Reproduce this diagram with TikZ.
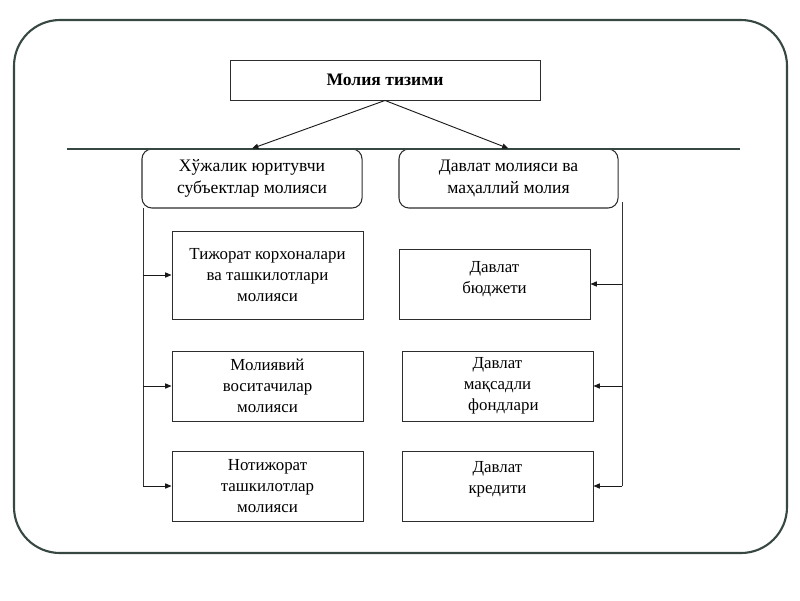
\documentclass[tikz,border=0pt]{standalone}
\usepackage{fontspec}
\setmainfont{Liberation Serif}
\usepackage{xcolor}
\usetikzlibrary{arrows.meta, positioning, calc}
\definecolor{framegray}{RGB}{55, 72, 66}
\definecolor{boxgray}{RGB}{45, 45, 45}

\begin{document}
\begin{tikzpicture}[
  x=0.025cm, y=-0.025cm,
  box/.style={rectangle, draw=boxgray, line width=0.65pt, fill=white,
              minimum width=4.775cm, minimum height=1.75cm, align=center,
              font=\fontsize{12}{15}\selectfont, inner sep=1pt},
  group/.style={rectangle, rounded corners=0.25cm, draw=boxgray, line width=0.75pt, fill=white,
                minimum width=5.5cm, minimum height=1.475cm, align=center,
                font=\fontsize{12.5}{15.5}\selectfont},
  head/.style={rectangle, draw=boxgray, line width=0.65pt, fill=white,
               minimum width=7.75cm, minimum height=1cm, align=center,
               font=\fontsize{12.5}{14}\selectfont\bfseries},
  arrow/.style={-{Triangle[length=1.6mm, width=1.3mm]}, line width=0.65pt, color=black!90},
  bus/.style={line width=0.7pt, color=black!80}
]
\useasboundingbox (0,0) rectangle (800,600);

% Frame
\draw[framegray, line width=1.5pt, rounded corners=1.15cm] (14,20) rectangle (787,553);

% Top
\node[head] (system) at (385,80) {Молия тизими};

% Groups
\node[group] (firms) at (252,178.5) {Хўжалик юритувчи\\субъектлар молияси};
\node[group, minimum width=5.475cm] (state) at (508.5,178.5) {Давлат молияси ва\\маҳаллий молия};

\coordinate (lineW) at (67,149);
\coordinate (lineE) at (740,149);
\draw[framegray, line width=2.1pt] (lineW) -- (lineE);

% Left column
\node[box, minimum height=2.2cm] (trade) at (267.5,275) {Тижорат корхоналари\\ва ташкилотлари\\молияси};
\node[box] (broker) at (267.5,386) {Молиявий\\воситачилар\\молияси};
\node[box] (nonprofit) at (267.5,486) {Нотижорат\\ташкилотлар\\молияси};

% Right column
\node[box] (budget) at (494.5,284) {Давлат\\бюджети\\[-6pt]};
\node[box] (funds) at (497.5,386) {Давлат\\мақсадли\\\hspace{0.7em}фондлари};
\node[box] (credit) at (497.5,486) {Давлат\\кредити\\[-3pt]};

% Arrows
\draw[arrow] (system.south) -- (firms.north);
\draw[arrow] (system.south) -- (state.north);

\coordinate (lbus) at (143,208);
\coordinate (rbus) at (622,202);
\draw[bus] (lbus) -- (lbus |- nonprofit.west);
\draw[bus] (rbus) -- (rbus |- credit.east);
\draw[arrow] (lbus |- trade.west) -- (trade.west);
\draw[arrow] (lbus |- broker.west) -- (broker.west);
\draw[arrow] (lbus |- nonprofit.west) -- (nonprofit.west);
\draw[arrow] (rbus |- budget.east) -- (budget.east);
\draw[arrow] (rbus |- funds.east) -- (funds.east);
\draw[arrow] (rbus |- credit.east) -- (credit.east);

\end{tikzpicture}
\end{document}
